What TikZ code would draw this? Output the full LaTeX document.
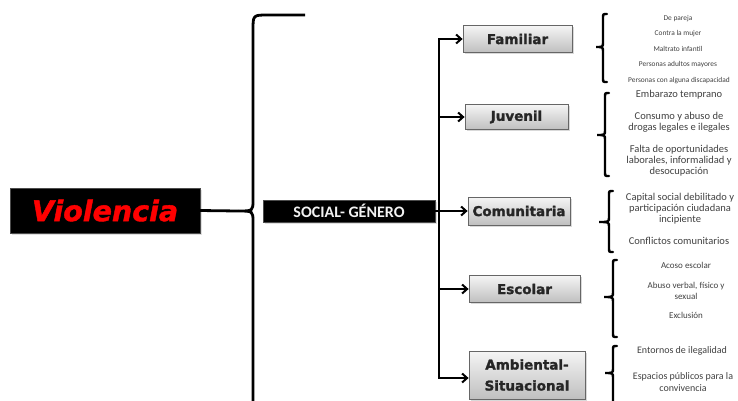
\documentclass[tikz,border=0pt]{standalone}
\usepackage{fontspec}
\setmainfont{Carlito}
\newfontfamily\boxfont{DejaVu Sans}[FakeBold=1.6]
\newfontfamily\violfont{DejaVu Sans}[FakeBold=1.4]
\usetikzlibrary{arrows.meta,shadows}
\newcommand\mybrace[5]{% v, tip, y1, ym, y2
  \draw[brace] ({#1+4},#3) .. controls (#1,#3) .. (#1,{#3+4}) -- (#1,{#4-5})
    .. controls (#1,#4) .. (#2,#4) .. controls (#1,#4) .. (#1,{#4+5})
    -- (#1,{#5-4}) .. controls (#1,#5) .. ({#1+4},#5);}
\begin{document}
\begin{tikzpicture}[x=1pt,y=-1pt,
  cat/.style={draw=black!60, line width=0.8pt, top color=black!4, bottom color=black!25,
    font=\boxfont\bfseries\fontsize{13.5}{16}\selectfont, text=black!85,
    drop shadow={shadow xshift=1.5pt, shadow yshift=-1.5pt, opacity=0.3},
    inner sep=0pt, align=center},
  blk/.style={fill=black, draw=black!70, inner sep=0pt,
    drop shadow={shadow xshift=1.5pt, shadow yshift=-2pt, opacity=0.25}},
  brace/.style={line width=2.4pt, black, line cap=round},
  arr/.style={line width=2pt, -{Straight Barb[length=5pt,width=9pt,line width=2pt]}},
  item/.style={font=\fontsize{10.5}{11}\selectfont, text=black!75, align=center, inner sep=0pt},
  itemsm/.style={font=\fontsize{7.4}{8}\selectfont, text=black!75, align=center, inner sep=0pt},
  itemmd/.style={font=\fontsize{9}{11}\selectfont, text=black!75, align=center, inner sep=0pt}]
\useasboundingbox (0,0) rectangle (738,400);

% main boxes
\node[blk, minimum width=190pt, minimum height=45pt, text=red,
  font=\violfont\bfseries\itshape\fontsize{28.5}{30}\selectfont] (viol) at (105,210.5) {Violencia};
\node[blk, minimum width=172pt, minimum height=22pt, text=black!5!white,
  font=\bfseries\fontsize{16}{18}\selectfont] (soc) at (349,211) {SOCIAL- GÉNERO};

% big brace
\coordinate (bigtip) at (238,211);
\draw[line width=2.8pt] (viol.east) -- (bigtip);
\draw[line width=2.8pt] (305,15) -- (268,15) .. controls (253,15) .. (253,30) -- (253,200)
  .. controls (253,211) .. (bigtip) .. controls (253,211) .. (253,222) -- (253,410);

% category boxes
\node[cat, minimum width=109pt, minimum height=27pt] (fam) at (517.5,39) {Familiar};
\node[cat, minimum width=103pt, minimum height=25pt] (juv) at (516.5,117) {Juvenil};
\node[cat, minimum width=102pt, minimum height=28pt] (com) at (519,211) {Comunitaria};
\node[cat, minimum width=111pt, minimum height=27pt] (esc) at (524.5,289) {Escolar};
\node[cat, minimum width=116pt, minimum height=48pt, font=\boxfont\bfseries\fontsize{13.5}{21}\selectfont] (amb) at (527,375) {Ambiental-\\Situacional};

% bus and arrows
\coordinate (bus) at (439,0);
\draw[line width=2pt] (soc.east) -- (bus|-soc.east);
\draw[line width=2pt] (bus|-fam.west) -- ([yshift=-3pt]bus|-amb.west);
\foreach \n in {fam,juv,com,esc}
  \draw[arr] ([xshift=-1pt]bus|-\n.west) -- (\n.west);
\draw[arr] ([xshift=-1pt,yshift=-3pt]bus|-amb.west) -- ([yshift=-3pt]amb.west);

% right braces
\mybrace{603}{596}{14}{47}{82}
\mybrace{605}{597}{93}{135}{176}
\mybrace{609}{599}{191}{222}{252}
\mybrace{613}{604}{260}{297}{337}
\mybrace{613}{605}{346}{373}{410}

% Familiar items
\node[itemsm] (f1) at (678,19) {De pareja};
\node[itemsm] (f2) at (678,34) {Contra la mujer};
\node[itemsm] (f3) at (678,49) {Maltrato infantil};
\node[itemsm] (f4) at (678,65) {Personas adultos mayores};
\node[itemsm] (f5) at (679,81) {Personas con alguna discapacidad};

% Juvenil items
\node[item] (j1) at (679,95) {Embarazo temprano};
\node[item] (j2) at (679,122.5) {Consumo y abuso de\\drogas legales e ilegales};
\node[item] (j3) at (679,161) {Falta de oportunidades\\laborales, informalidad y\\desocupación};

% Comunitaria items
\node[item] (c1) at (680,209) {Capital social debilitado y\\participación ciudadana\\incipiente};
\node[item] (c2) at (679,241) {Conflictos comunitarios};

% Escolar items
\node[itemmd] (e1) at (686,265) {Acoso escolar};
\node[itemmd] (e2) at (686,290.5) {Abuso verbal, físico y\\sexual};
\node[itemmd] (e3) at (686,315) {Exclusión};

% Ambiental items
\node[item, font=\fontsize{10}{12}\selectfont] (a1) at (682,351) {Entornos de ilegalidad};
\node[item, font=\fontsize{10}{12}\selectfont] (a2) at (683,382) {Espacios públicos para la\\convivencia};
\end{tikzpicture}
\end{document}
